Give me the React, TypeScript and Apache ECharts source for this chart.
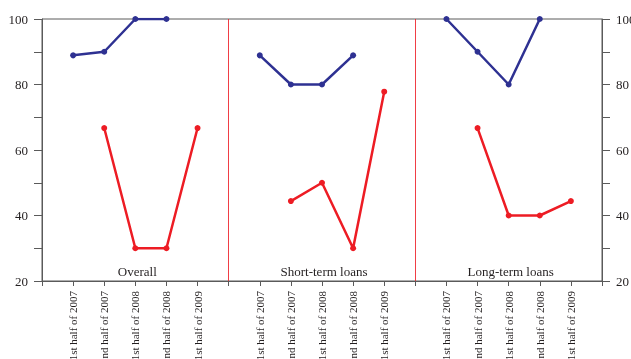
import React, { useEffect, useRef } from "react";
import * as echarts from "echarts";

// Half-year periods shown in each panel
const periods = [
  "1st half of 2007",
  "2nd half of 2007",
  "1st half of 2008",
  "2nd half of 2008",
  "1st half of 2009",
];
const panels = ["Overall", "Short-term loans", "Long-term loans"];

// Blue series per panel
const overallBlue = [88.9, 90, 100, 100, null];
const shortBlue = [88.9, 80, 80, 88.9, null];
const longBlue = [100, 90, 80, 100, null];

// Red series per panel
const overallRed = [null, 66.7, 30, 30, 66.7];
const shortRed = [null, 44.4, 50, 30, 77.8];
const longRed = [null, 66.7, 40, 40, 44.4];

const yTicks = [20, 40, 60, 80, 100];

const BLUE = "#2E3192";
const RED = "#ED1C24";
const AXIS = "#5a5a5a";
const TEXT = "#231F20";
const FONT = '"Liberation Serif", "Times New Roman", serif';

// Category slots: a gap before, between and after the three panels
const categories: string[] = [
  "gap0",
  ...periods,
  "gap1",
  ...periods,
  "gap2",
  ...periods,
  "gap3",
];

const joinPanels = (a: (number | null)[], b: (number | null)[], c: (number | null)[]) => [
  null,
  ...a,
  null,
  ...b,
  null,
  ...c,
  null,
];

export default function App() {
  const ref = useRef<HTMLDivElement>(null);

  useEffect(() => {
    if (!ref.current) return;
    const chart = echarts.init(ref.current, null, { renderer: "svg" });

    const lineSeries = (name: string, color: string, data: (number | null)[], extra = {}) => ({
      name,
      type: "line",
      data,
      yAxisIndex: 0,
      symbol: "circle",
      symbolSize: 6,
      connectNulls: false,
      lineStyle: { color, width: 2.5 },
      itemStyle: { color },
      ...extra,
    });

    const yAxisBase = (position: "left" | "right") => ({
      type: "value",
      min: 20,
      max: 100,
      interval: 10,
      position,
      axisLine: { show: true, lineStyle: { color: AXIS } },
      axisTick: { show: true, length: 8, lineStyle: { color: AXIS } },
      axisLabel: {
        margin: 14,
        fontFamily: FONT,
        fontSize: 13,
        color: TEXT,
        formatter: (v: number) => (yTicks.includes(v) ? String(v) : ""),
      },
      splitLine: { show: false },
    });

    chart.setOption({
      animation: false,
      grid: {
        left: 42,
        right: 29,
        top: 19,
        bottom: 78,
        containLabel: false,
        outerBoundsMode: "none",
        show: true,
        borderColor: AXIS,
        borderWidth: 1,
      },
      xAxis: {
        type: "category",
        data: categories,
        boundaryGap: false,
        axisLine: { lineStyle: { color: AXIS } },
        axisTick: { show: true, interval: 0, length: 5, lineStyle: { color: AXIS } },
        axisLabel: {
          interval: 0,
          rotate: 90,
          margin: 10,
          fontFamily: FONT,
          fontSize: 11,
          color: TEXT,
          formatter: (v: string) => (v.startsWith("gap") ? "" : v),
        },
        splitLine: { show: false },
      },
      yAxis: [yAxisBase("left"), yAxisBase("right")],
      series: [
        lineSeries("blue", BLUE, joinPanels(overallBlue, shortBlue, longBlue), {
          markLine: {
            silent: true,
            symbol: "none",
            label: { show: false },
            lineStyle: { color: RED, width: 1, type: "solid", opacity: 0.85 },
            data: [{ xAxis: 6 }, { xAxis: 12 }],
          },
        }),
        lineSeries("red", RED, joinPanels(overallRed, shortRed, longRed)),
      ],
    });

    // Panel captions centred in each panel near the bottom
    const captionY = chart.convertToPixel({ yAxisIndex: 0 }, 22.8) as number;
    const graphics = panels.map((name, i) => {
      const x = chart.convertToPixel({ xAxisIndex: 0 }, 3 + i * 6) as number;
      return {
        type: "text",
        x: x + 2,
        y: captionY,
        style: {
          text: name,
          fontFamily: FONT,
          fontSize: 13,
          fill: TEXT,
          textAlign: "center",
          textVerticalAlign: "middle",
        },
      };
    });
    chart.setOption({ graphic: graphics });

    return () => chart.dispose();
  }, []);

  return (
    <div
      ref={ref}
      style={{ position: "fixed", left: 0, top: 0, width: 631, height: 359 }}
    />
  );
}
